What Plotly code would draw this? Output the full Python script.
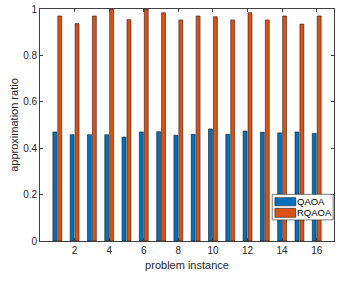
import plotly.graph_objects as go

instances = list(range(1, 17))
qaoa = [0.470, 0.458, 0.458, 0.458, 0.448, 0.470, 0.471, 0.456,
        0.460, 0.483, 0.460, 0.474, 0.469, 0.466, 0.470, 0.464]
rqaoa = [0.970, 0.937, 0.970, 1.000, 0.954, 1.000, 0.984, 0.953,
         0.970, 0.967, 0.953, 0.984, 0.953, 0.970, 0.935, 0.970]
series_names = ["QAOA", "RQAOA"]
series_colors = ["#0072BD", "#D95319"]
y_ticks = [0, 0.2, 0.4, 0.6, 0.8, 1]
y_ticklabels = ["0", "0.2", "0.4", "0.6", "0.8", "1"]
x_ticks = [2, 4, 6, 8, 10, 12, 14, 16]

fig = go.Figure()
for name, vals, col in zip(series_names, [qaoa, rqaoa], series_colors):
    fig.add_trace(go.Bar(x=instances, y=vals, name=name, showlegend=False,
                         marker=dict(color=col, line=dict(color="black", width=0.5))))

axis_common = dict(showline=True, linecolor="#404040", linewidth=0.8, mirror="ticks",
                   ticks="inside", ticklen=3, tickcolor="#404040", showgrid=False,
                   zeroline=False, automargin=False,
                   tickfont=dict(family="Liberation Sans, Arial", size=10, color="#262626"))

# manual MATLAB-style legend box (paper coords = plot area)
shapes = [dict(type="rect", xref="paper", yref="paper", x0=0.790, x1=0.997, y0=0.091, y1=0.201,
               fillcolor="white", line=dict(color="#262626", width=0.6), layer="above")]
annotations = []
sw_y = [(0.152, 0.187), (0.102, 0.141)]
for (y0, y1), name, col in zip(sw_y, series_names, series_colors):
    shapes.append(dict(type="rect", xref="paper", yref="paper", x0=0.799, x1=0.870, y0=y0, y1=y1,
                       fillcolor=col, line=dict(color="black", width=0.5), layer="above"))
    annotations.append(dict(xref="paper", yref="paper", x=0.870, y=(y0 + y1) / 2, text=name,
                            showarrow=False, xanchor="left", yanchor="middle", xshift=-1,
                            font=dict(family="Liberation Sans, Arial", size=9.5, color="black")))

fig.update_layout(
    width=345, height=283,
    margin=dict(l=40, r=11, t=9, b=42),
    plot_bgcolor="white", paper_bgcolor="white",
    barmode="group", bargap=0.429, bargroupgap=0.2,
    font=dict(family="Liberation Sans, Arial", size=11, color="#262626"),
    xaxis=dict(range=[0, 17], tickvals=x_ticks,
               title=dict(text="problem instance", standoff=6, font=dict(size=11)), **axis_common),
    yaxis=dict(range=[0, 1], tickvals=y_ticks, ticktext=y_ticklabels,
               title=dict(text="approximation ratio", standoff=2, font=dict(size=11)), **axis_common),
    shapes=shapes, annotations=annotations,
    showlegend=False,
)

fig.write_html("out.html", config={"displayModeBar": False},
               post_script="document.body.style.margin='0';document.body.style.overflow='hidden';")
